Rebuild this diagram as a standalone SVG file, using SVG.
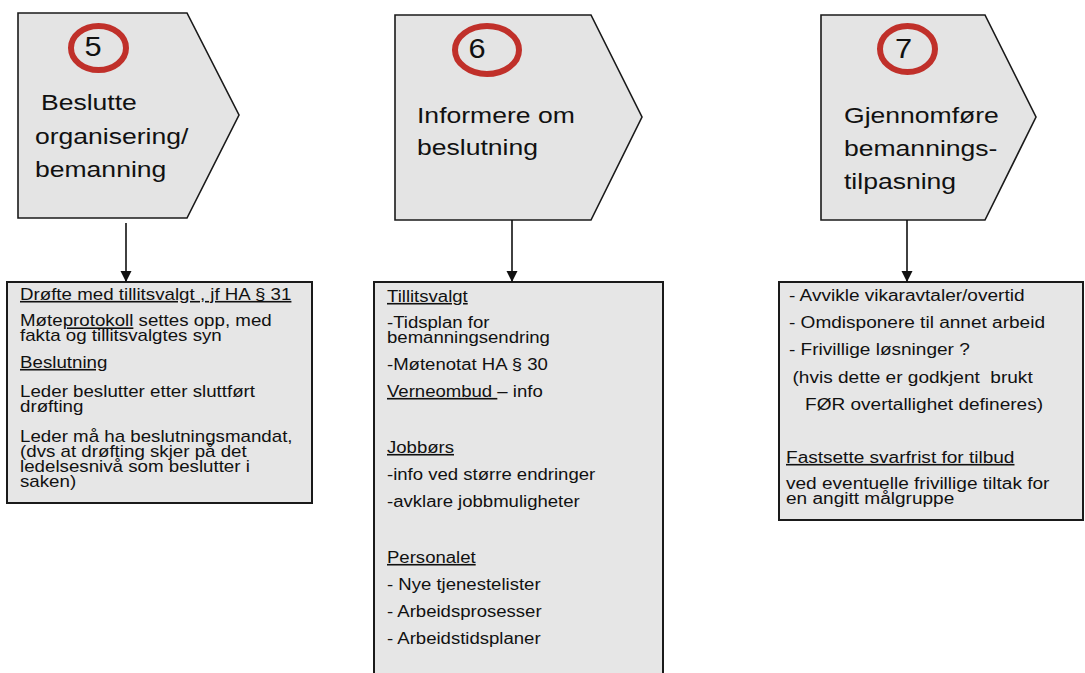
<svg xmlns="http://www.w3.org/2000/svg" width="1085" height="673" viewBox="0 0 1085 673">
<style>
.bg{fill:#ffffff}
.step{fill:#e4e4e4;stroke:#1a1a1a;stroke-width:1.6}
.ring{fill:none;stroke:#c0302a;stroke-width:6}
.box{fill:#e6e6e6;stroke:#1a1a1a;stroke-width:2}
.conn{stroke:#111;stroke-width:1.6;fill:none}
text{font-family:"Liberation Sans",Arial,sans-serif;fill:#111}
.num{font-size:28px;text-anchor:middle}
.title{font-size:22.5px}
.body{font-size:16px}
.u{text-decoration:underline}
</style>
<defs>
<marker id="ah" markerUnits="userSpaceOnUse" markerWidth="12" markerHeight="12" refX="11" refY="5.5" orient="auto">
<path d="M0,0 L11,5.5 L0,11 z" fill="#111"/>
</marker>
</defs>
<rect class="bg" x="0" y="0" width="1085" height="673"/>

<g id="step5">
<polygon class="step" points="18,13 187,13 239,115 187,218 18,218"/>
<ellipse class="ring" cx="98.5" cy="48" rx="27.5" ry="22"/>
<text class="num" transform="translate(93 56) scale(1.1 1)">5</text>
<text class="title" transform="translate(41 110) scale(1.18 1)">Beslutte</text>
<text class="title" transform="translate(35 143.5) scale(1.18 1)">organisering/</text>
<text class="title" transform="translate(35 176.5) scale(1.18 1)">bemanning</text>
</g>

<g id="step6">
<polygon class="step" points="395,15 591,15 642,117 591,220 395,220"/>
<ellipse class="ring" cx="487" cy="50" rx="32" ry="24"/>
<text class="num" transform="translate(477 58) scale(1.1 1)">6</text>
<text class="title" transform="translate(417 123) scale(1.18 1)">Informere om</text>
<text class="title" transform="translate(417 155) scale(1.18 1)">beslutning</text>
</g>

<g id="step7">
<polygon class="step" points="821,15 985,15 1036,117 985,220 821,220"/>
<ellipse class="ring" cx="907.5" cy="49" rx="27.5" ry="23"/>
<text class="num" transform="translate(903.5 58) scale(1.1 1)">7</text>
<text class="title" transform="translate(844 122.5) scale(1.18 1)">Gjennomføre</text>
<text class="title" transform="translate(844 156) scale(1.18 1)">bemannings-</text>
<text class="title" transform="translate(844 188.5) scale(1.18 1)">tilpasning</text>
</g>

<g id="box5">
<rect class="box" x="7" y="282" width="305" height="221"/>
<g transform="translate(20 0) scale(1.17 1)">
<text class="body u" x="0" y="300">Drøfte med tillitsvalgt , jf HA § 31</text>
<text class="body" x="0" y="326.5">Møte<tspan class="u">protokoll</tspan> settes opp, med</text>
<text class="body" x="0" y="341">fakta og tillitsvalgtes syn</text>
<text class="body u" x="0" y="368">Beslutning</text>
<text class="body" x="0" y="397">Leder beslutter etter sluttført</text>
<text class="body" x="0" y="412.5">drøfting</text>
<text class="body" x="0" y="442">Leder må ha beslutningsmandat,</text>
<text class="body" x="0" y="457">(dvs at drøfting skjer på det</text>
<text class="body" x="0" y="472">ledelsesnivå som beslutter i</text>
<text class="body" x="0" y="487.5">saken)</text>
</g>
</g>

<g id="box6">
<rect class="box" x="374" y="282" width="289" height="410"/>
<g transform="translate(387 0) scale(1.16 1)">
<text class="body u" x="0" y="302">Tillitsvalgt</text>
<text class="body" x="0" y="328">-Tidsplan for</text>
<text class="body" x="0" y="343">bemanningsendring</text>
<text class="body" x="0" y="370">-Møtenotat HA § 30</text>
<text class="body" x="0" y="397"><tspan class="u">Verneombud </tspan>– info</text>
<text class="body u" x="0" y="453">Jobbørs</text>
<text class="body" x="0" y="480">-info ved større endringer</text>
<text class="body" x="0" y="507">-avklare jobbmuligheter</text>
<text class="body u" x="0" y="563">Personalet</text>
<text class="body" x="0" y="590">- Nye tjenestelister</text>
<text class="body" x="0" y="617">- Arbeidsprosesser</text>
<text class="body" x="0" y="644">- Arbeidstidsplaner</text>
</g>
</g>

<g id="box7">
<rect class="box" x="779" y="282" width="304" height="238"/>
<g transform="translate(786 0) scale(1.19 1)">
<text class="body" x="2.5" y="301">- Avvikle vikaravtaler/overtid</text>
<text class="body" x="2.5" y="328">- Omdisponere til annet arbeid</text>
<text class="body" x="2.5" y="355">- Frivillige løsninger ?</text>
<text class="body" x="5.5" y="383" xml:space="preserve">(hvis dette er godkjent  brukt</text>
<text class="body" x="16" y="410">FØR overtallighet defineres)</text>
<text class="body u" x="0" y="463">Fastsette svarfrist for tilbud</text>
<text class="body" x="0" y="489">ved eventuelle frivillige tiltak for</text>
<text class="body" x="0" y="504.5">en angitt målgruppe</text>
</g>
</g>

<g id="connectors">
<line class="conn" x1="126" y1="223" x2="126" y2="282" marker-end="url(#ah)"/>
<line class="conn" x1="512" y1="220" x2="512" y2="282" marker-end="url(#ah)"/>
<line class="conn" x1="907" y1="220" x2="907" y2="282" marker-end="url(#ah)"/>
</g>
</svg>
